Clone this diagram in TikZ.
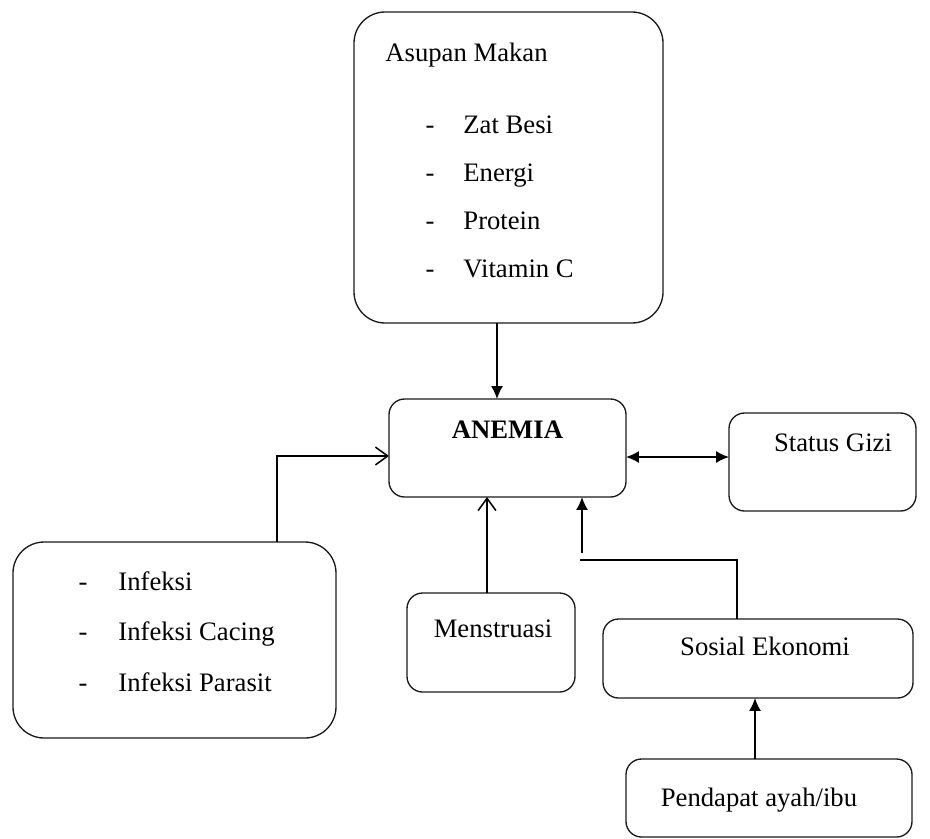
\documentclass[tikz,border=0pt]{standalone}
\usepackage{fontspec}
\setmainfont{Liberation Serif}
\usepackage{tikz}
\usetikzlibrary{arrows.meta,positioning,calc}
\definecolor{edge}{HTML}{1A1A1A}

\begin{document}
\begin{tikzpicture}[x=0.45pt, y=-0.45pt,
    box/.style={draw=edge, line width=0.6pt, rounded corners=7pt, inner sep=0pt, outer sep=0pt},
    bigbox/.style={box, rounded corners=14pt},
    txt/.style={font=\fontsize{12}{14}\selectfont, inner sep=0pt, text height=8.2pt, text depth=2.6pt},
    item/.style={txt, anchor=west},
    link/.style={line width=0.7pt, draw=black},
    solid tip/.style={-{Latex[length=5.8pt,width=5.4pt]}},
    open tip/.style={-{Straight Barb[length=5.5pt,width=8pt]}}]
  \useasboundingbox (0,0) rectangle (930,838);

  % boxes
  \node[bigbox, minimum width=139.05pt, minimum height=139.95pt] (asupan) at (508.5,167.5) {};
  \node[box, minimum width=106.65pt, minimum height=44.1pt] (anemia) at (507.5,448) {};
  \node[box, minimum width=84.15pt, minimum height=44.1pt] (status) at (822.5,462) {};
  \node[bigbox, minimum width=145.35pt, minimum height=88.2pt] (infeksi) at (174.5,640) {};
  \node[box, minimum width=75.6pt, minimum height=44.55pt] (menstruasi) at (491,642.5) {};
  \node[box, minimum width=139.5pt, minimum height=35.55pt] (sosial) at (758,658.5) {};
  \node[box, minimum width=128.7pt, minimum height=35.1pt] (pendapat) at (769,798) {};

  % texts
  \node[item] (asupanT) at (385,55) {Asupan Makan};
  \foreach \y/\t [count=\i] in {127/Zat Besi, 175/Energi, 223/Protein, 271/Vitamin C} {
    \node[txt] (asupanD\i) at (430,\y) {-};
    \node[item] (asupanI\i) at (463,\y) {\t};
  }
  \node[txt, font=\fontsize{12}{14}\selectfont\bfseries] (anemiaT) at (507.5,432) {ANEMIA};
  \node[txt] (statusT) at (833,445) {Status Gizi};
  \foreach \y/\t [count=\i] in {584/Infeksi, 634/Infeksi Cacing, 685/Infeksi Parasit} {
    \node[txt] (infeksiD\i) at (83,\y) {-};
    \node[item] (infeksiI\i) at (118,\y) {\t};
  }
  \node[txt] (menstruasiT) at (493,631) {Menstruasi};
  \node[txt] (sosialT) at (765,649) {Sosial Ekonomi};
  \node[txt] (pendapatT) at (759,800) {Pendapat ayah/ibu};

  % connectors
  \coordinate (downX) at (497,0);
  \coordinate (infBend) at (277,456);
  \coordinate (menX) at (487,0);
  \coordinate (sosBend) at (737,560);
  \coordinate (sosEnd) at (580,560);
  \coordinate (sosUp) at (582,553);
  \coordinate (giziY) at (0,457);
  \coordinate (penX) at (755,0);

  \draw[link, solid tip] (asupan.south -| downX) -- (anemia.north -| downX);
  \draw[link, open tip] (infeksi.north -| infBend) |- (anemia.west |- infBend);
  \draw[link, open tip] (menstruasi.north -| menX) -- (anemia.south -| menX);
  \draw[link] (sosial.north -| sosBend) -- (sosBend) -- (sosEnd);
  \draw[link, solid tip] (sosUp) -- (anemia.south -| sosUp);
  \draw[link, {Latex[length=5.8pt,width=5.4pt]}-{Latex[length=5.8pt,width=5.4pt]}] (anemia.east |- giziY) -- (status.west |- giziY);
  \draw[link, solid tip] (pendapat.north -| penX) -- (sosial.south -| penX);
\end{tikzpicture}
\end{document}
